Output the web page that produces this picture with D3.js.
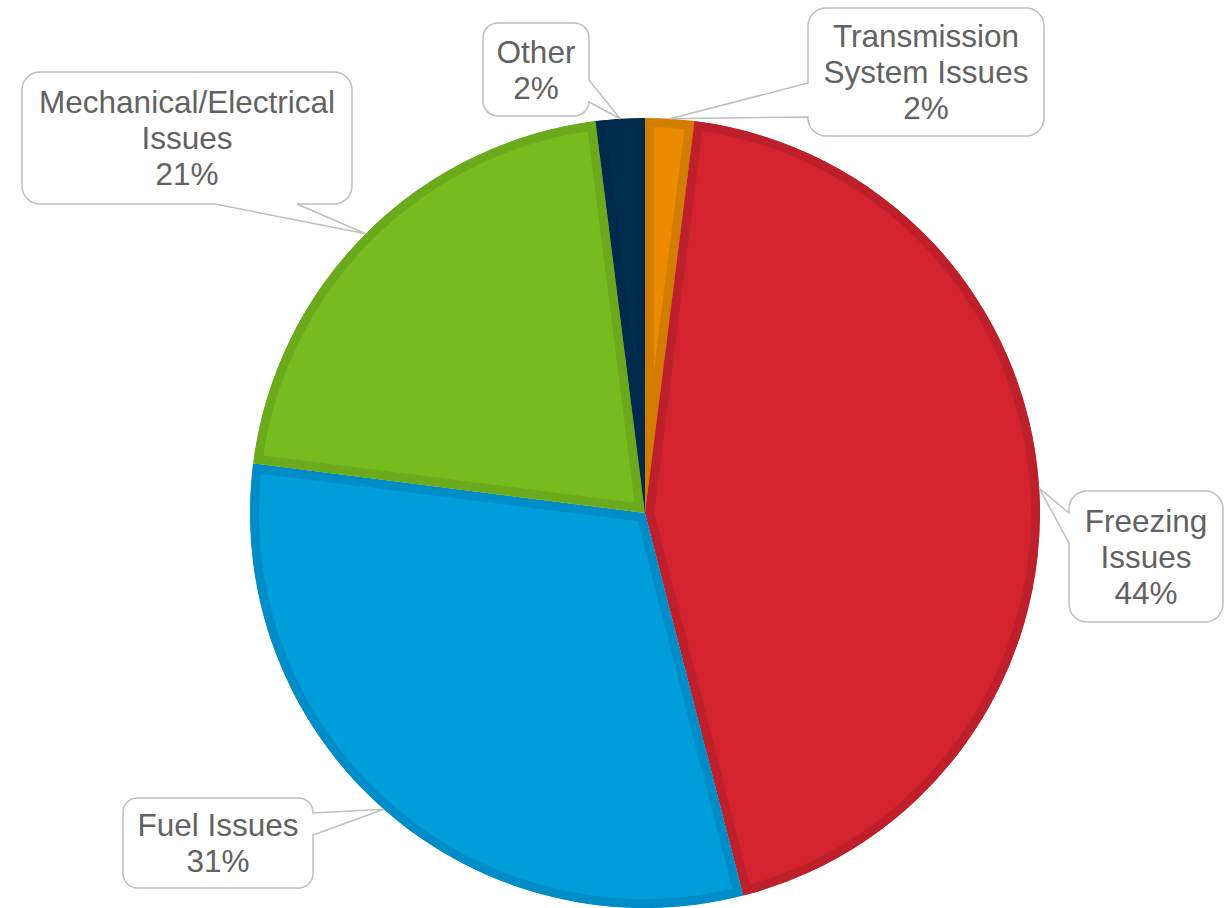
<!DOCTYPE html>
<html>
<head>
<meta charset="utf-8">
<script src="https://cdn.jsdelivr.net/npm/d3@7"></script>
<style>
  html, body { margin: 0; padding: 0; background: #fff; }
  svg { display: block; }
</style>
</head>
<body>
<div id="chart"></div>
<script>
// pie data, clockwise from 12 o'clock
const categories = ["Transmission System Issues", "Freezing Issues", "Fuel Issues", "Mechanical/Electrical Issues", "Other"];
const labelLines = [["Transmission", "System Issues"], ["Freezing", "Issues"], ["Fuel Issues"], ["Mechanical/Electrical", "Issues"], ["Other"]];
const shares = [2, 44, 31, 21, 2];

const fills = ["#ea8b00", "#d2232e", "#009ddb", "#77bc1f", "#002f4e"];
const borders = ["#d37d00", "#bd1f2b", "#008cc6", "#6baa1c", "#00294a"];

const WIDTH = 1228, HEIGHT = 908;
const CX = 645, CY = 513, R = 395;
const BORDER = 9;

// callout boxes: x, y, w, h, side the pointer leaves from, and where on that side
const BOXES = [
  {x: 808, y: 8, w: 236, h: 128, side: "left", a: 75, b: 109},
  {x: 1069, y: 491, w: 154, h: 131, side: "left", a: 22, b: 52},
  {x: 123, y: 798, w: 190, h: 90, side: "right", a: 15, b: 37},
  {x: 22, y: 72, w: 330, h: 132, side: "bottom", a: 193, b: 275},
  {x: 483, y: 23, w: 106, h: 93, side: "right", a: 57, b: 79}
];

const svg = d3.select("#chart")
  .append("svg")
  .attr("width", WIDTH)
  .attr("height", HEIGHT);

const pie = d3.pie().sort(null).value(d => d);
const arcs = pie(shares);
const arc = d3.arc().innerRadius(0).outerRadius(R);

const g = svg.append("g").attr("transform", `translate(${CX},${CY})`);

const defs = svg.append("defs");
arcs.forEach((d, i) => {
  defs.append("clipPath").attr("id", "clip" + i)
    .append("path").attr("d", arc(d));
});

// slices: darker inner border done by clipping a wide stroke
g.selectAll("path.slice")
  .data(arcs)
  .enter()
  .append("path")
  .attr("class", "slice")
  .attr("d", arc)
  .attr("fill", (d, i) => fills[i])
  .attr("stroke", (d, i) => borders[i])
  .attr("stroke-width", BORDER * 2)
  .attr("clip-path", (d, i) => `url(#clip${i})`);

// callout shape: rounded rect with a wedge pointing to tip
function callout(b, tip) {
  const x0 = b.x, y0 = b.y, x1 = b.x + b.w, y1 = b.y + b.h;
  const r = Math.min(18, Math.min(b.w, b.h) * 0.16);
  let p = `M${x0 + r},${y0} L${x1 - r},${y0} A${r},${r} 0 0 1 ${x1},${y0 + r}`;
  if (b.side === "right") {
    p += ` L${x1},${y0 + b.a} L${tip[0]},${tip[1]} L${x1},${y0 + b.b}`;
  }
  p += ` L${x1},${y1 - r} A${r},${r} 0 0 1 ${x1 - r},${y1}`;
  if (b.side === "bottom") {
    p += ` L${x0 + b.b},${y1} L${tip[0]},${tip[1]} L${x0 + b.a},${y1}`;
  }
  p += ` L${x0 + r},${y1} A${r},${r} 0 0 1 ${x0},${y1 - r}`;
  if (b.side === "left") {
    p += ` L${x0},${y0 + b.b} L${tip[0]},${tip[1]} L${x0},${y0 + b.a}`;
  }
  p += ` L${x0},${y0 + r} A${r},${r} 0 0 1 ${x0 + r},${y0} Z`;
  return p;
}

const labels = svg.selectAll("g.callout")
  .data(arcs)
  .enter()
  .append("g")
  .attr("class", "callout");

labels.append("path")
  .attr("d", (d, i) => {
    const mid = (d.startAngle + d.endAngle) / 2;
    const tip = [CX + R * Math.sin(mid), CY - R * Math.cos(mid)];
    return callout(BOXES[i], tip);
  })
  .attr("fill", "#fff")
  .attr("stroke", "#bfbfbf")
  .attr("stroke-width", 1.5);

const FONT = 31.5, LINE = 36;
labels.each(function(d, i) {
  const b = BOXES[i];
  const lines = labelLines[i].concat([shares[i] + "%"]);
  const cy = b.y + b.h / 2;
  const t = d3.select(this).append("text")
    .attr("text-anchor", "middle")
    .attr("font-family", "'Liberation Sans', Arial, sans-serif")
    .attr("font-size", FONT)
    .attr("fill", "#626262");
  lines.forEach((s, k) => {
    t.append("tspan")
      .attr("x", b.x + b.w / 2)
      .attr("y", cy + (k - (lines.length - 1) / 2) * LINE + 11)
      .text(s);
  });
});
</script>
</body>
</html>
